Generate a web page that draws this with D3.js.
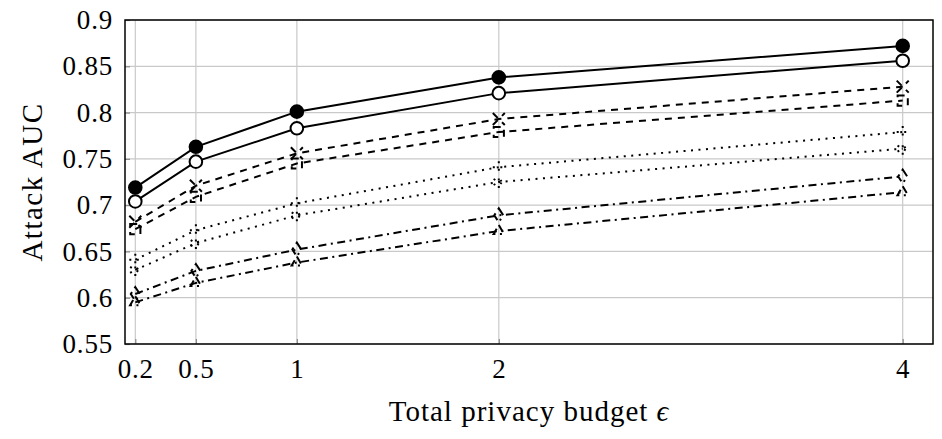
<!DOCTYPE html>
<html>
<head>
<meta charset="utf-8">
<script src="https://cdn.jsdelivr.net/npm/d3@7"></script>
<style>
  body { margin: 0; background: #fff; }
  text { font-family: "Liberation Serif", "DejaVu Serif", serif; fill: #000; }
</style>
</head>
<body>
<div id="chart"></div>
<script>
// data
const budgets = [0.2, 0.5, 1, 2, 4];
const xTicks = [0.2, 0.5, 1, 2, 4];
const yTicks = [0.55, 0.6, 0.65, 0.7, 0.75, 0.8, 0.85, 0.9];

const solidFilled = [0.719, 0.763, 0.801, 0.838, 0.872];
const solidOpen   = [0.704, 0.747, 0.783, 0.821, 0.856];
const dashedCross = [0.682, 0.721, 0.756, 0.793, 0.828];
const dashedSquare= [0.674, 0.709, 0.745, 0.779, 0.813];
const dottedPlus  = [0.641, 0.673, 0.702, 0.741, 0.779];
const dottedStar  = [0.630, 0.659, 0.689, 0.725, 0.761];
const dashdotDiam = [0.604, 0.629, 0.652, 0.689, 0.731];
const dashdotTri  = [0.595, 0.616, 0.638, 0.672, 0.714];

const series = [
  { values: solidFilled,  dash: null,            mark: "circleFilled" },
  { values: solidOpen,    dash: null,            mark: "circle" },
  { values: dashedCross,  dash: "7,6",           mark: "x" },
  { values: dashedSquare, dash: "7,6",           mark: "square" },
  { values: dottedPlus,   dash: "2,5.5",         mark: "plus" },
  { values: dottedStar,   dash: "2,5.5",         mark: "star" },
  { values: dashdotDiam,  dash: "8,4.5,2,4.5",   mark: "diamond" },
  { values: dashdotTri,   dash: "8,4.5,2,4.5",   mark: "triangle" }
];

const width = 942;
const height = 439;
const margin = { top: 20, right: 9, bottom: 95, left: 125 };

const svg = d3.select("#chart")
  .append("svg")
  .attr("width", width)
  .attr("height", height);

const x = d3.scaleLinear()
  .domain([0.149, 4.15])
  .range([margin.left, width - margin.right]);

const y = d3.scaleLinear()
  .domain([0.55, 0.9])
  .range([height - margin.bottom, margin.top]);

// grid
const grid = svg.append("g").attr("stroke", "#c9c9c9").attr("stroke-width", 1.2);
grid.selectAll("line.v").data(xTicks).join("line")
  .attr("x1", d => x(d)).attr("x2", d => x(d))
  .attr("y1", y.range()[0]).attr("y2", y.range()[1]);
grid.selectAll("line.h").data(yTicks).join("line")
  .attr("x1", x.range()[0]).attr("x2", x.range()[1])
  .attr("y1", d => y(d)).attr("y2", d => y(d));

// axes (ticks inside, labels outside)
const xAxis = d3.axisBottom(x).tickValues(xTicks).tickFormat(d3.format("")).tickSizeInner(-5).tickSizeOuter(0).tickPadding(12);
const yAxis = d3.axisLeft(y).tickValues(yTicks).tickFormat(d => d === 0.9 || d === 0.8 || d === 0.7 || d === 0.6 ? d.toFixed(1) : d.toFixed(2)).tickSizeInner(-5).tickSizeOuter(0).tickPadding(12);

const gx = svg.append("g").attr("transform", `translate(0,${y.range()[0]})`).call(xAxis);
const gy = svg.append("g").attr("transform", `translate(${x.range()[0]},0)`).call(yAxis);
[gx, gy].forEach(g => {
  g.select(".domain").remove();
  g.selectAll(".tick line").attr("stroke", "#8a8a8a").attr("stroke-width", 1.2);
  g.selectAll(".tick text")
    .style("font-family", "'Liberation Serif', serif")
    .style("font-size", "27px")
    .style("letter-spacing", "0.8px");
});
gx.selectAll(".tick text").attr("dy", "0.8em");

// lines
const line = d3.line()
  .x((d, i) => x(budgets[i]))
  .y(d => y(d));

const plot = svg.append("g");
series.forEach(s => {
  plot.append("path")
    .datum(s.values)
    .attr("d", line)
    .attr("fill", "none")
    .attr("stroke", "#000")
    .attr("stroke-width", 2)
    .attr("stroke-dasharray", s.dash);
});

// markers
function markPath(type) {
  const r = 6;
  const p = d3.path();
  switch (type) {
    case "x":
      p.moveTo(-r, -r); p.lineTo(r, r); p.moveTo(-r, r); p.lineTo(r, -r); break;
    case "plus":
      p.moveTo(-r, 0); p.lineTo(r, 0); p.moveTo(0, -r); p.lineTo(0, r); break;
    case "star":
      for (let k = 0; k < 3; k++) {
        const a = Math.PI / 2 + k * Math.PI / 3;
        p.moveTo(r * Math.cos(a), r * Math.sin(a));
        p.lineTo(-r * Math.cos(a), -r * Math.sin(a));
      }
      break;
    case "square":
      p.rect(-r * 0.85, -r * 0.85, r * 1.7, r * 1.7); break;
    case "diamond":
      p.moveTo(0, -r * 1.15); p.lineTo(r * 0.75, 0); p.lineTo(0, r * 1.15); p.lineTo(-r * 0.75, 0); p.closePath(); break;
    case "triangle":
      p.moveTo(0, -r); p.lineTo(r * 0.87, r * 0.5); p.lineTo(-r * 0.87, r * 0.5); p.closePath(); break;
  }
  return p.toString();
}

series.forEach(s => {
  const g = plot.append("g");
  if (s.mark === "circleFilled" || s.mark === "circle") {
    g.selectAll("circle").data(s.values).join("circle")
      .attr("cx", (d, i) => x(budgets[i]))
      .attr("cy", d => y(d))
      .attr("r", 6.3)
      .attr("fill", s.mark === "circleFilled" ? "#000" : "#fff")
      .attr("stroke", "#000")
      .attr("stroke-width", 2);
  } else {
    g.selectAll("path").data(s.values).join("path")
      .attr("transform", (d, i) => `translate(${x(budgets[i])},${y(d)})`)
      .attr("d", markPath(s.mark))
      .attr("fill", "none")
      .attr("stroke", "#000")
      .attr("stroke-width", 2)
      .attr("stroke-dasharray", s.dash);
  }
});

// frame
svg.append("rect")
  .attr("x", x.range()[0]).attr("y", y.range()[1])
  .attr("width", x.range()[1] - x.range()[0])
  .attr("height", y.range()[0] - y.range()[1])
  .attr("fill", "none")
  .attr("stroke", "#000")
  .attr("stroke-width", 1.5);

// axis titles
svg.append("text")
  .attr("x", (x.range()[0] + x.range()[1]) / 2)
  .attr("y", 421)
  .attr("text-anchor", "middle")
  .style("font-size", "29px")
  .style("letter-spacing", "1px")
  .html("Total privacy budget <tspan font-style='italic'>ϵ</tspan>");

svg.append("text")
  .attr("transform", `translate(42,${(y.range()[0] + y.range()[1]) / 2}) rotate(-90)`)
  .attr("text-anchor", "middle")
  .style("font-size", "29px")
  .style("letter-spacing", "1.5px")
  .text("Attack AUC");
</script>
</body>
</html>
